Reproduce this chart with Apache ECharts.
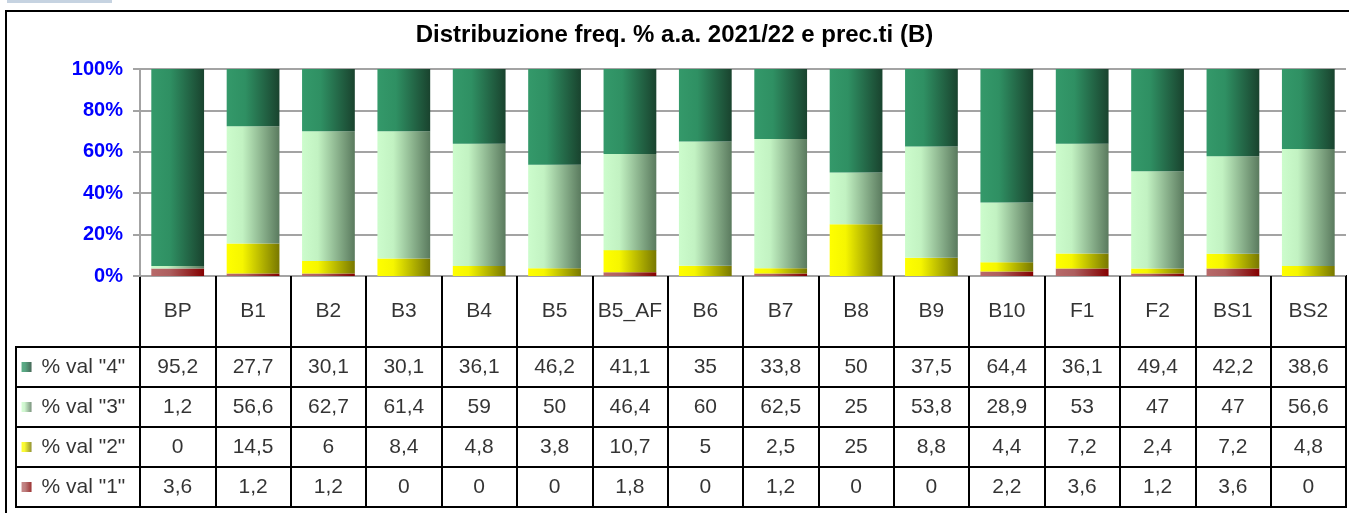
<!DOCTYPE html>
<html>
<head>
<meta charset="utf-8">
<script src="https://cdn.jsdelivr.net/npm/echarts@6/dist/echarts.min.js"></script>
<style>
  html, body { margin: 0; padding: 0; background: #fff; }
  #chart { width: 1349px; height: 513px; }
</style>
</head>
<body>
<div id="chart"></div>
<script>
// categorie (corsi)
var cats = ['BP','B1','B2','B3','B4','B5','B5_AF','B6','B7','B8','B9','B10','F1','F2','BS1','BS2'];
// percentuali per valutazione
var val4 = [95.2,27.7,30.1,30.1,36.1,46.2,41.1,35,33.8,50,37.5,64.4,36.1,49.4,42.2,38.6];
var val3 = [1.2,56.6,62.7,61.4,59,50,46.4,60,62.5,25,53.8,28.9,53,47,47,56.6];
var val2 = [0,14.5,6,8.4,4.8,3.8,10.7,5,2.5,25,8.8,4.4,7.2,2.4,7.2,4.8];
var val1 = [3.6,1.2,1.2,0,0,0,1.8,0,1.2,0,0,2.2,3.6,1.2,3.6,0];
// etichette righe tabella (dall'alto)
var rowNames = ['% val "4"','% val "3"','% val "2"','% val "1"'];
var yTicks = [0,20,40,60,80,100];

var FONT = 'Liberation Sans';

function grad(stops) {
    return new echarts.graphic.LinearGradient(0, 0, 1, 0, stops.map(function (s) {
        return { offset: s[0], color: s[1] };
    }));
}
var colors = {
    '% val "4"': grad([[0,'#34996a'],[0.35,'#2f9063'],[1,'#19432e']]),
    '% val "3"': grad([[0,'#ccfccc'],[0.3,'#c2f2c2'],[1,'#5a7a5e']]),
    '% val "2"': grad([[0,'#ffff00'],[0.3,'#f6f600'],[1,'#787800']]),
    '% val "1"': grad([[0,'#b86a6a'],[0.35,'#ad5e5e'],[1,'#840000']])
};

// valori per riga
var rows = {};
rows['% val "4"'] = val4;
rows['% val "3"'] = val3;
rows['% val "2"'] = val2;
rows['% val "1"'] = val1;

// normalizzazione al 100% (grafico in pila al 100%)
var totals = cats.map(function (c, i) { return val1[i] + val2[i] + val3[i] + val4[i]; });
function norm(arr) {
    return arr.map(function (v, i) { return totals[i] ? v / totals[i] * 100 : 0; });
}

var series = [];
// barre: dal basso val 1, val 2, val 3, val 4
['% val "1"','% val "2"','% val "3"','% val "4"'].forEach(function (name) {
    series.push({
        name: name,
        type: 'bar',
        stack: 'tot',
        xAxisIndex: 0,
        yAxisIndex: 0,
        barCategoryGap: '30%',
        silent: true,
        itemStyle: { color: colors[name] },
        data: norm(rows[name])
    });
});

// intestazione tabella
series.push({
    type: 'scatter',
    xAxisIndex: 1,
    yAxisIndex: 1,
    symbolSize: 1,
    silent: true,
    itemStyle: { color: 'rgba(0,0,0,0)' },
    label: {
        show: true, position: 'inside', color: '#000', fontSize: 21, fontFamily: FONT,
        formatter: function (p) { return p.value[0]; }
    },
    data: cats.map(function (c) { return [c, 0.5]; })
});

// valori tabella
var cells = [];
rowNames.forEach(function (r) {
    cats.forEach(function (c, i) { cells.push([c, r, rows[r][i]]); });
});
series.push({
    type: 'scatter',
    xAxisIndex: 2,
    yAxisIndex: 2,
    symbolSize: 1,
    silent: true,
    itemStyle: { color: 'rgba(0,0,0,0)' },
    label: {
        show: true, position: 'inside', color: '#000', fontSize: 21, fontFamily: FONT,
        formatter: function (p) { return String(p.value[2]).replace('.', ','); }
    },
    data: cells
});

// legenda nella tabella
rowNames.forEach(function (r) {
    series.push({
        type: 'scatter',
        xAxisIndex: 3,
        yAxisIndex: 3,
        symbol: 'rect',
        symbolSize: 10,
        silent: true,
        itemStyle: { color: colors[r] },
        label: {
            show: true, position: 'right', distance: 10, color: '#000', fontSize: 21, fontFamily: FONT,
            formatter: r
        },
        data: [[0.085, r]]
    });
});

var rowAxis = rowNames.slice().reverse();
var black = { show: true, lineStyle: { color: '#000', width: 2 } };

var option = {
    animation: false,
    backgroundColor: '#fff',
    title: {
        text: 'Distribuzione freq. % a.a. 2021/22 e prec.ti (B)',
        left: 'center',
        top: 18,
        textStyle: { fontFamily: FONT, fontSize: 24, fontWeight: 'bold', color: '#000' }
    },
    graphic: [
        { type: 'rect', shape: { x: 7, y: 0, width: 105, height: 3 }, style: { fill: '#c6d3e1' } },
        { type: 'rect', shape: { x: 6, y: 11, width: 1400, height: 600 }, style: { fill: 'none', stroke: '#000', lineWidth: 2 } }
    ],
    grid: [
        { left: 140, right: 3, top: 69, height: 207 },
        { left: 140, right: 3, top: 276, height: 71, show: true, borderColor: '#000', borderWidth: 2 },
        { left: 140, right: 3, top: 347, height: 160, show: true, borderColor: '#000', borderWidth: 2 },
        { left: 16, width: 124, top: 347, height: 160, show: true, borderColor: '#000', borderWidth: 2 }
    ],
    xAxis: [
        { gridIndex: 0, type: 'category', data: cats, axisLine: { show: false }, axisTick: { show: false }, axisLabel: { show: false } },
        { gridIndex: 1, type: 'category', data: cats, axisLine: { show: false }, axisTick: { show: false }, axisLabel: { show: false }, splitLine: black },
        { gridIndex: 2, type: 'category', data: cats, axisLine: { show: false }, axisTick: { show: false }, axisLabel: { show: false }, splitLine: black },
        { gridIndex: 3, type: 'value', min: 0, max: 1, show: false }
    ],
    yAxis: [
        {
            gridIndex: 0, type: 'value', min: yTicks[0], max: yTicks[yTicks.length - 1], interval: 20,
            axisLine: { show: true, lineStyle: { color: '#a3a3a3', width: 2 } },
            axisTick: { show: true, length: 7, lineStyle: { color: '#a3a3a3', width: 2 } },
            splitLine: { show: true, lineStyle: { color: '#a3a3a3', width: 2 } },
            axisLabel: { formatter: '{value}%', color: '#0000ff', fontWeight: 'bold', fontSize: 20, fontFamily: FONT, margin: 17 }
        },
        { gridIndex: 1, type: 'value', min: 0, max: 1, show: false },
        { gridIndex: 2, type: 'category', data: rowAxis, axisLine: { show: false }, axisTick: { show: false }, axisLabel: { show: false }, splitLine: black },
        { gridIndex: 3, type: 'category', data: rowAxis, axisLine: { show: false }, axisTick: { show: false }, axisLabel: { show: false }, splitLine: black }
    ],
    series: series
};

var myChart = echarts.init(document.getElementById('chart'));
myChart.setOption(option);
</script>
</body>
</html>
